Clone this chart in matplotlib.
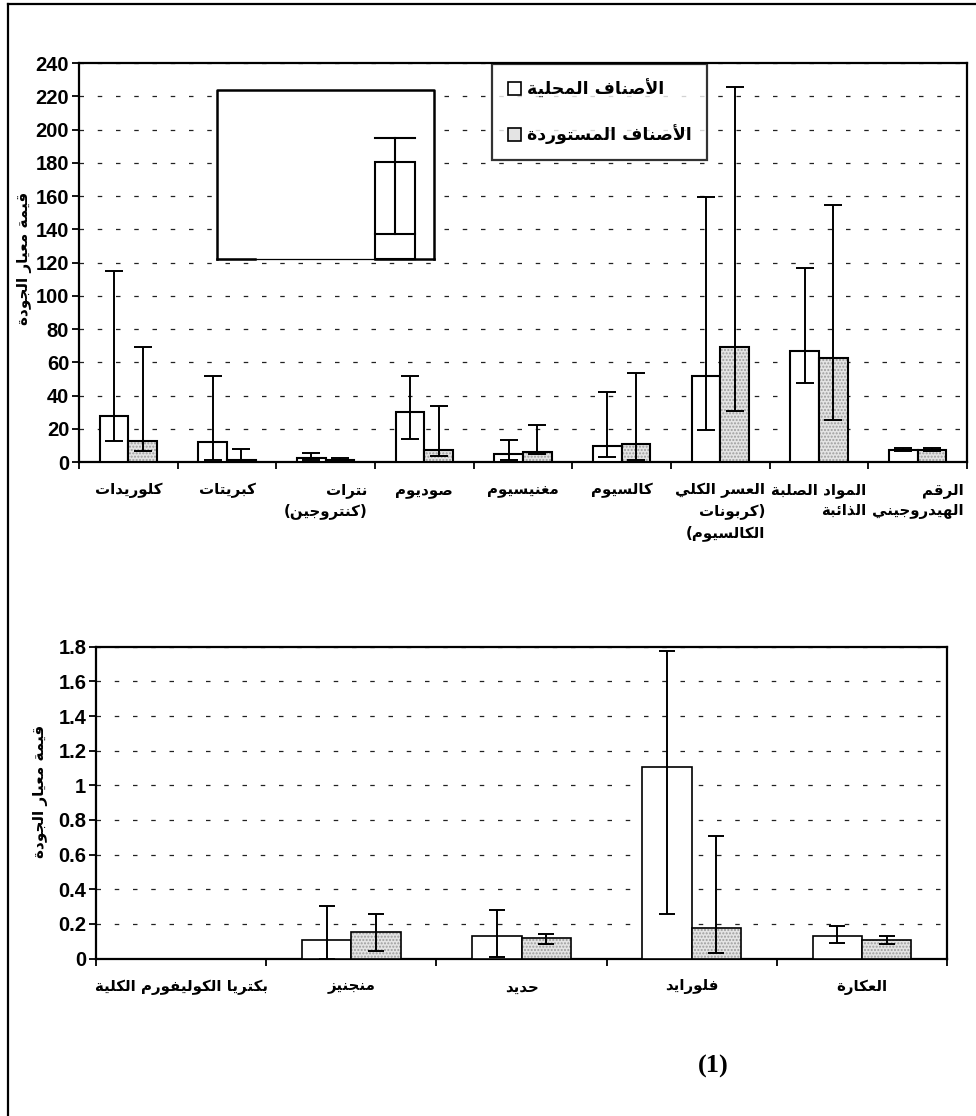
import matplotlib
matplotlib.use("Agg")
import matplotlib.pyplot as plt
import numpy as np
from matplotlib.lines import Line2D
from matplotlib.patches import Rectangle, Patch
from matplotlib.legend_handler import HandlerTuple

# ---- data ----
top_categories = ['كلوريدات', 'كبريتات', 'نترات\n(كنتروجين)', 'صوديوم', 'مغنيسيوم', 'كالسيوم',
                  'العسر الكلي\n(كربونات\nالكالسيوم)', 'المواد الصلبة\nالذائبة', 'الرقم\nالهيدروجيني']
top_local = [27.8, 12.0, 2.4, 29.8, 5.0, 9.8, 52.0, 66.5, 7.3]
top_local_low = [12.9, 1.0, 1.0, 14.1, 1.4, 2.8, 19.4, 47.4, 6.9]
top_local_high = [114.9, 52.0, 5.7, 52.0, 13.4, 42.4, 159.5, 116.9, 8.3]
top_import = [12.9, 1.2, 1.2, 7.0, 6.2, 11.0, 68.9, 62.8, 7.2]
top_import_low = [6.7, 0.6, 0.6, 3.5, 4.6, 1.4, 30.4, 25.4, 6.8]
top_import_high = [68.9, 8.0, 2.2, 34.0, 22.0, 53.4, 225.6, 154.7, 8.2]

bottom_categories = ['بكتريا الكوليفورم الكلية', 'منجنيز', 'حديد', 'فلورايد', 'العكارة']
bottom_local = [0.0, 0.106, 0.129, 1.104, 0.129]
bottom_local_low = [0.0, 0.0, 0.008, 0.259, 0.092]
bottom_local_high = [0.0, 0.306, 0.282, 1.775, 0.186]
bottom_import = [0.0, 0.153, 0.116, 0.176, 0.106]
bottom_import_low = [0.0, 0.043, 0.082, 0.033, 0.082]
bottom_import_high = [0.0, 0.259, 0.141, 0.708, 0.131]

series_names = ['الأصناف المحلية', 'الأصناف المستوردة']
y_label = 'قيمة معيار الجودة'
caption = '(1)'

# stray pasted box in the upper chart (x in category units, y in data units)
inset_x = (0.898, 3.097)
inset_y = (122, 223.8)
inset_bar_x = (2.499, 2.904)
inset_bar_y = (137, 180.5, 195)

# ---- minimal arabic shaping (matplotlib has no bidi / joining) ----
FORMS = {
    'ء': (0xFE80, 1), 'آ': (0xFE81, 2), 'أ': (0xFE83, 2), 'ؤ': (0xFE85, 2), 'إ': (0xFE87, 2),
    'ئ': (0xFE89, 4), 'ا': (0xFE8D, 2), 'ب': (0xFE8F, 4), 'ة': (0xFE93, 2), 'ت': (0xFE95, 4),
    'ث': (0xFE99, 4), 'ج': (0xFE9D, 4), 'ح': (0xFEA1, 4), 'خ': (0xFEA5, 4), 'د': (0xFEA9, 2),
    'ذ': (0xFEAB, 2), 'ر': (0xFEAD, 2), 'ز': (0xFEAF, 2), 'س': (0xFEB1, 4), 'ش': (0xFEB5, 4),
    'ص': (0xFEB9, 4), 'ض': (0xFEBD, 4), 'ط': (0xFEC1, 4), 'ظ': (0xFEC5, 4), 'ع': (0xFEC9, 4),
    'غ': (0xFECD, 4), 'ف': (0xFED1, 4), 'ق': (0xFED5, 4), 'ك': (0xFED9, 4), 'ل': (0xFEDD, 4),
    'م': (0xFEE1, 4), 'ن': (0xFEE5, 4), 'ه': (0xFEE9, 4), 'و': (0xFEED, 2), 'ى': (0xFEEF, 2),
    'ي': (0xFEF1, 4),
}
LAM_ALEF = {'أ': 0xFEF7, 'ا': 0xFEFB, 'إ': 0xFEF9, 'آ': 0xFEF5}


def joins_next(c):
    return c in FORMS and FORMS[c][1] == 4


def shape(text):
    lines = []
    for line in text.split('\n'):
        chars = []
        i = 0
        while i < len(line):
            if line[i] == 'ل' and i + 1 < len(line) and line[i + 1] in LAM_ALEF:
                chars.append(('LA', LAM_ALEF[line[i + 1]]))
                i += 2
            else:
                chars.append((line[i], None))
                i += 1
        res = []
        for k, (c, lig) in enumerate(chars):
            prev = chars[k - 1][0] if k > 0 else ''
            p = joins_next(prev)
            if c == 'LA':
                res.append(chr(lig + (1 if p else 0)))
                continue
            if c not in FORMS:
                res.append(c)
                continue
            start, n = FORMS[c]
            nxt = chars[k + 1][0] if k + 1 < len(chars) else ''
            q = n == 4 and (nxt in FORMS or nxt == 'LA')
            if n == 1:
                form = 0
            elif p and q:
                form = 3
            elif q:
                form = 2
            elif p:
                form = 1
            else:
                form = 0
            res.append(chr(start + form))
        lines.append(''.join(reversed(res)).translate(str.maketrans('()', ')(')))
    return '\n'.join(lines)


AR = ['DejaVu Sans']
NUM = ['Liberation Sans', 'DejaVu Sans']
plt.rcParams['font.family'] = NUM

W = 0.29
GRID = dict(color='#222222', linewidth=0.9, linestyle=(0, (3.6, 11.0)))
IMPORT_FACE = dict(color='#e4e4e4', edgecolor='#9c9c9c', hatch='.....', linewidth=0)


def draw_panel(ax, cats, loc, loc_lo, loc_hi, imp, imp_lo, imp_hi, bar_lw, cap, pad, fs):
    x = np.arange(len(cats))
    loc = np.array(loc)
    imp = np.array(imp)
    ax.bar(x - W / 2, loc, W, facecolor='white', edgecolor='black', linewidth=bar_lw, zorder=3)
    ax.bar(x + W / 2, imp, W, zorder=3, **IMPORT_FACE)
    ax.bar(x + W / 2, imp, W, fill=False, edgecolor='black', linewidth=bar_lw, zorder=3)
    ax.errorbar(x - W / 2, loc, yerr=[loc - np.array(loc_lo), np.array(loc_hi) - loc], fmt='none',
                ecolor='black', elinewidth=1.4, capsize=cap, capthick=1.4, zorder=4)
    ax.errorbar(x + W / 2, imp, yerr=[imp - np.array(imp_lo), np.array(imp_hi) - imp], fmt='none',
                ecolor='black', elinewidth=1.4, capsize=cap, capthick=1.4, zorder=4)
    ax.set_xlim(-0.5, len(cats) - 0.5)
    ax.set_xticks(x)
    ax.set_xticklabels([shape(c) for c in cats], family=AR, fontweight='bold', fontsize=fs,
                       multialignment='right', linespacing=1.45, va='top')
    ax.set_xticks(np.arange(len(cats) + 1) - 0.5, minor=True)
    ax.tick_params(axis='x', which='major', length=0, pad=pad)
    ax.tick_params(axis='x', which='minor', length=5, width=1.3, direction='out')
    ax.tick_params(axis='y', length=5, width=1.3, direction='out', pad=2)
    ax.yaxis.grid(True, **GRID)
    ax.set_axisbelow(True)
    for s in ax.spines.values():
        s.set_linewidth(1.6)
    for lab in ax.get_yticklabels():
        lab.set_fontweight('bold')
        lab.set_fontsize(14.5)


fig = plt.figure(figsize=(9.76, 11.16), dpi=100)

# ---------- upper chart ----------
ax1 = fig.add_axes([0.0809, 0.586, 0.9099, 0.3575])
ax1.set_ylim(0, 240)
ax1.set_yticks(np.arange(0, 241, 20))
draw_panel(ax1, top_categories, top_local, top_local_low, top_local_high,
           top_import, top_import_low, top_import_high, 1.5, 6.5, 15, 10.8)

# pasted box
ax1.add_patch(Rectangle((inset_x[0], inset_y[0]), inset_x[1] - inset_x[0], inset_y[1] - inset_y[0],
                        facecolor='white', edgecolor='none', zorder=5))
ax1.plot([inset_x[0], inset_x[0], inset_x[1], inset_x[1]],
         [inset_y[0], inset_y[1], inset_y[1], inset_y[0]], color='black', lw=1.8, zorder=6)
ax1.plot([inset_x[0], inset_bar_x[1]], [inset_y[0], inset_y[0]], color='black', lw=0.9, zorder=6)
ax1.plot([inset_x[0], 1.28], [inset_y[0], inset_y[0]], color='black', lw=1.8, zorder=6)
ax1.plot([inset_bar_x[0], inset_x[1]], [inset_y[0], inset_y[0]], color='black', lw=1.8, zorder=6)
ax1.add_patch(Rectangle((inset_bar_x[0], inset_y[0]), inset_bar_x[1] - inset_bar_x[0],
                        inset_bar_y[1] - inset_y[0], facecolor='white', edgecolor='black',
                        linewidth=1.5, zorder=6))
ax1.plot(inset_bar_x, [inset_bar_y[0]] * 2, color='black', lw=1.5, zorder=7)
ax1.plot(inset_bar_x, [inset_bar_y[2]] * 2, color='black', lw=1.5, zorder=7)
mid = (inset_bar_x[0] + inset_bar_x[1]) / 2
ax1.plot([mid, mid], [inset_bar_y[0], inset_bar_y[2]], color='black', lw=1.5, zorder=7)

# legend
h_local = Patch(facecolor='white', edgecolor='black', linewidth=1.2)
h_imp = (Patch(**IMPORT_FACE), Patch(fill=False, edgecolor='black', linewidth=1.2))
leg = ax1.legend([h_local, h_imp], [shape(s) for s in series_names],
                 handler_map={tuple: HandlerTuple(ndivide=1, pad=0)},
                 loc='upper left', bbox_to_anchor=(0.465, 0.998), frameon=True, fancybox=False,
                 prop={'family': AR, 'weight': 'bold', 'size': 12.5},
                 handlelength=0.75, handleheight=0.75, handletextpad=0.35, labelspacing=1.5,
                 borderpad=0.9, borderaxespad=0)
leg.get_frame().set_edgecolor('black')
leg.get_frame().set_linewidth(1.6)
leg.set_zorder(8)

fig.text(24.5 / 976, 1 - 258 / 1116, shape(y_label), family=AR, fontweight='bold', fontsize=11,
         rotation=90, ha='center', va='center')

# ---------- lower chart ----------
ax2 = fig.add_axes([0.0984, 0.1411, 0.8719, 0.2794])
ax2.set_ylim(0, 1.8)
ax2.set_yticks(np.round(np.arange(0, 1.81, 0.2), 1))
ax2.yaxis.set_major_formatter(matplotlib.ticker.FuncFormatter(lambda v, p: f'{v:g}'))
draw_panel(ax2, bottom_categories, bottom_local, bottom_local_low, bottom_local_high,
           bottom_import, bottom_import_low, bottom_import_high, 1.2, 6, 15, 10.8)

fig.text(41 / 976, 1 - 791 / 1116, shape(y_label), family=AR, fontweight='bold', fontsize=11,
         rotation=90, ha='center', va='center')

fig.text(713 / 976, 1 - 1066 / 1116, caption, family=['Liberation Serif'], fontweight='bold',
         fontsize=19, ha='center', va='center')

# page frame (left and top edges of the scanned box)
fig.add_artist(Line2D([8 / 976, 8 / 976], [0, 1 - 4 / 1116], color='black', lw=1.6))
fig.add_artist(Line2D([8 / 976, 1], [1 - 4 / 1116, 1 - 4 / 1116], color='black', lw=1.6))

fig.savefig('out.png', dpi=100)
